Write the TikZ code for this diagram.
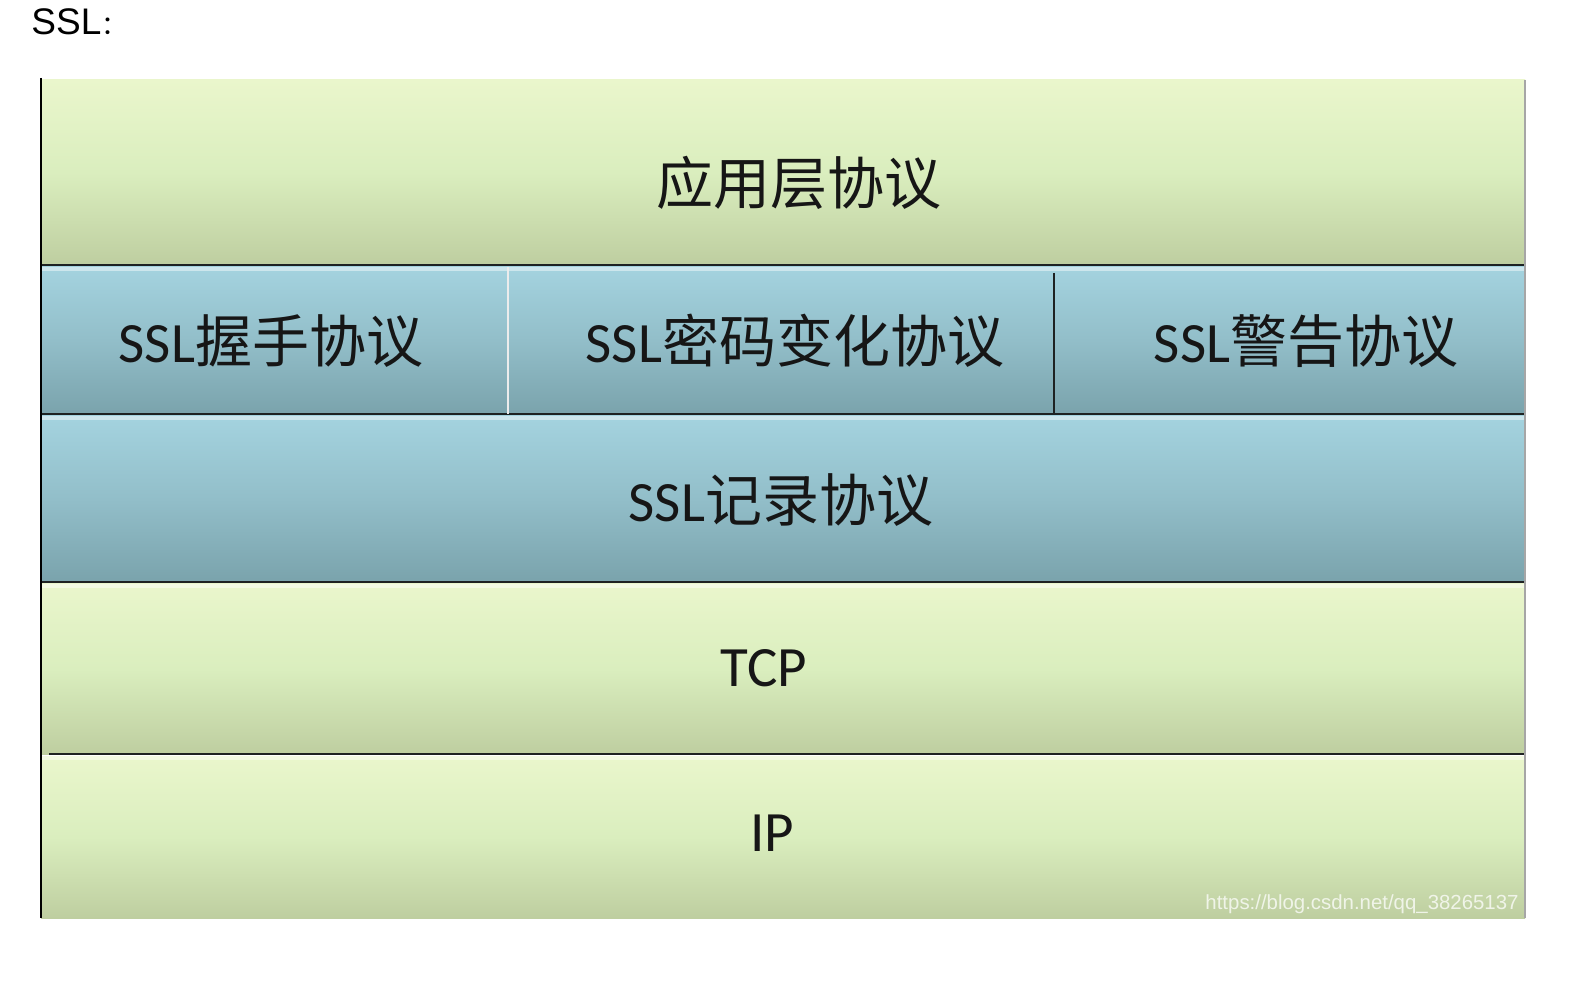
\documentclass[tikz,border=0pt]{standalone}
\usepackage{fontspec}
\setmainfont{Carlito}
\newfontfamily\cjkfont{Noto Sans CJK SC}
\newfontfamily\arialfont{Liberation Sans}
\usetikzlibrary{fit}
\definecolor{gTop}{RGB}{234,246,204}
\definecolor{gMid}{RGB}{218,238,190}
\definecolor{gBot}{RGB}{190,206,160}
\definecolor{bTop}{RGB}{164,211,223}
\definecolor{bMid}{RGB}{146,190,201}
\definecolor{bBot}{RGB}{122,163,172}
\definecolor{sepc}{RGB}{30,34,34}
\definecolor{txtc}{RGB}{22,22,22}
\begin{document}
\begin{tikzpicture}[x=0.5pt,y=-0.5pt,
  band/.style={rectangle,inner sep=0pt,outer sep=0pt,draw=none},
  greenband/.style={band,top color=gTop,bottom color=gBot,middle color=gMid},
  blueband/.style={band,top color=bTop,bottom color=bBot,middle color=bMid},
  lbl/.style={inner sep=0pt,font=\fontsize{28.5}{32}\selectfont,text=txtc},
  sepline/.style={draw=sepc,line width=1.2pt},
  lightsep/.style={draw=white!85!gray,line width=1.2pt},
  hilite/.style={fill=white,opacity=0.45,draw=none}]
\useasboundingbox (0,0) rectangle (1586,994);
\fill[white] (0,0) rectangle (1586,994);

% title
\node[anchor=base west,inner sep=0pt,font=\arialfont\fontsize{18.5}{22}\selectfont] (title) at (31,35) {SSL{\cjkfont\fontsize{13}{15}\selectfont ：}};

% bands
\node[greenband,fit={(41,80)(1525,265)}] (app) {};
\node[blueband,fit={(41,267)(508,414)}] (hs) {};
\node[blueband,fit={(508,267)(1054,414)}] (ccs) {};
\node[blueband,fit={(1054,267)(1525,414)}] (alert) {};
\node[blueband,fit={(41,416)(1525,582)}] (rec) {};
\node[greenband,fit={(41,584)(1525,754)}] (tcp) {};
\node[greenband,fit={(41,756)(1525,918)}] (ip) {};

% highlights at the top of each band
\fill[hilite] (hs.north west) rectangle ([yshift=-2pt]hs.north east);
\fill[hilite] (ccs.north west) rectangle ([yshift=-2pt]ccs.north east);
\fill[hilite] (alert.north west) rectangle ([yshift=-2pt]alert.north east);
\fill[hilite] (rec.north west) rectangle ([yshift=-2pt]rec.north east);
\fill[hilite] (tcp.north west) rectangle ([yshift=-2pt]tcp.north east);
\fill[hilite] (ip.north west) rectangle ([yshift=-2pt]ip.north east);

% separators
\draw[sepline] (app.south west) -- (app.south east);
\draw[sepline] (hs.south west) -- (alert.south east);
\draw[sepline] (rec.south west) -- (rec.south east);
\draw[sepline] ([xshift=4pt]tcp.south west) -- (tcp.south east);
\draw[lightsep] (hs.north east) -- (hs.south east);
\draw[sepline] ([yshift=-3pt]ccs.north east) -- (ccs.south east);
\draw[draw=black,line width=1.2pt] ([yshift=1pt]app.north west) -- (ip.south west);
\draw[draw=gray!70,line width=0.6pt] (app.north east) -- (ip.south east);

% labels
\node[lbl] (tapp) at (799,183) {\cjkfont 应用层协议};
\node[lbl] (ths) at (271,341) {SSL\cjkfont 握手协议};
\node[lbl] (tccs) at (795,341) {SSL\cjkfont 密码变化协议};
\node[lbl] (talert) at (1306,341) {SSL\cjkfont 警告协议};
\node[lbl] (trec) at (781,500) {SSL\cjkfont 记录协议};
\node[lbl] (ttcp) at (764,668) {TCP};
\node[lbl] (tip) at (772,833) {IP};

% watermark
\node[inner sep=0pt,font=\arialfont\fontsize{10.2}{12}\selectfont,text=white,opacity=0.75] (wm) at (1362,904) {https://blog.csdn.net/qq\_38265137};
\end{tikzpicture}
\end{document}
